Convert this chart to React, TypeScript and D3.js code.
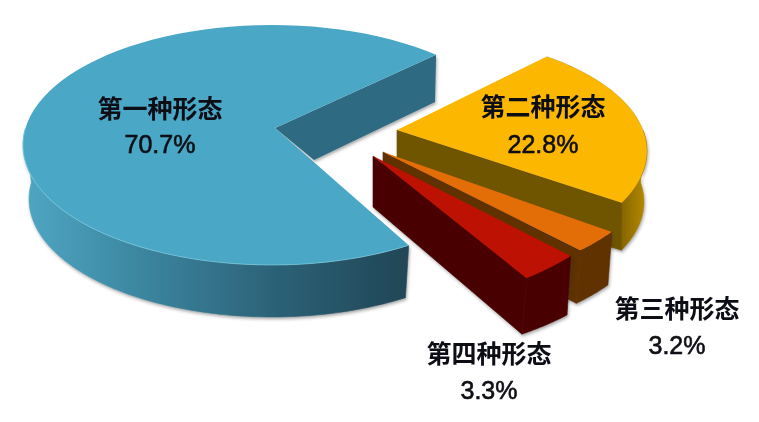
import React from "react";
import * as d3 from "d3";

const categories = ["第一种形态", "第二种形态", "第三种形态", "第四种形态"];
const shares = [70.7, 22.8, 3.2, 3.3];

const rad = Math.PI / 180;
type E = { cx: number; cy: number; rx: number; ry: number };
type Layout = {
  start: number; stretch: number;
  apex: [number, number]; apexBase: [number, number];
  cornerBase?: [number, number];
  top: E; base: E;
  face: string; wall: string; outer: string; seam: string;
  outerTo?: number; outerFrom?: number;
  label: [number, number]; value: [number, number];
};

const layouts: Layout[] = [
  { start: 146.7, stretch: 1, apex: [275, 128], apexBase: [314, 160], cornerBase: [435, 102],
    top: { cx: 272, cy: 145, rx: 249, ry: 120 }, base: { cx: 272, cy: 199, rx: 243, ry: 118 },
    face: "#4aa7c5", wall: "#2f6a82", outer: "url(#blueWall)", seam: "none", outerTo: 278, label: [160, 118], value: [160, 153] },
  { start: 36.7, stretch: 79.3 / 82.08, apex: [397, 130], apexBase: [397, 183],
    top: { cx: 398, cy: 151, rx: 249, ry: 118 }, base: { cx: 421, cy: 202, rx: 223, ry: 110 },
    face: "#fcb800", wall: "#705400", outer: "url(#yellowWall)", seam: "#705400", outerFrom: 80, label: [543, 116], value: [543, 153] },
  { start: 123.4, stretch: 1, apex: [383, 152], apexBase: [383, 205],
    top: { cx: 404, cy: 167, rx: 249, ry: 118 }, base: { cx: 400, cy: 220, rx: 249, ry: 118 },
    face: "#e36e07", wall: "#5f3000", outer: "#5f3000", seam: "#5f3000", label: [677, 318], value: [677, 354] },
  { start: 134.9, stretch: 1, apex: [373, 156], apexBase: [373, 207],
    top: { cx: 376, cy: 136, rx: 275, ry: 170 }, base: { cx: 368, cy: 212, rx: 281, ry: 146 },
    face: "#bd1103", wall: "#4a0200", outer: "#4a0200", seam: "#4a0200", label: [489, 363], value: [489, 399] },
];

const pieAngles = d3.pie<number>().sort(null).value((d) => d).startAngle(0).endAngle(2 * Math.PI)(shares);
const line = d3.line<[number, number]>();

const onEllipse = (e: E, deg: number): [number, number] => [
  e.cx + e.rx * Math.sin(deg * rad),
  e.cy - e.ry * Math.cos(deg * rad),
];
const sweep = (e: E, a: number, b: number): [number, number][] => {
  const s = d3.scaleLinear().domain([0, 80]).range([a, b]);
  return d3.range(0, 81).map((i) => onEllipse(e, s(i)));
};

export default function App() {
  const slices = layouts.map((l, i) => {
    const span = (pieAngles[i].endAngle - pieAngles[i].startAngle) / rad * l.stretch;
    return { l, a: l.start, b: l.start + span, cat: categories[i], v: shares[i] };
  });
  const draw = [slices[1], slices[2], slices[3], slices[0]];

  return (
    <svg width={759} height={422} style={{ position: "absolute", left: 0, top: 0, background: "#fff" }}>
      <defs>
        <linearGradient id="blueWall" gradientUnits="userSpaceOnUse" x1={25} x2={406} y1={0} y2={0}>
          <stop offset="0" stopColor="#4fa6c3" />
          <stop offset="0.3" stopColor="#3c86a0" />
          <stop offset="0.65" stopColor="#2c6278" />
          <stop offset="1" stopColor="#214656" />
        </linearGradient>
        <linearGradient id="yellowWall" gradientUnits="userSpaceOnUse" x1={615} x2={647} y1={0} y2={0}>
          <stop offset="0" stopColor="#7a5c00" />
          <stop offset="1" stopColor="#b88c00" />
        </linearGradient>
        <filter id="soft" x="-10%" y="-10%" width="120%" height="120%">
          <feDropShadow dx="1" dy="2" stdDeviation="1.6" floodColor="#333" floodOpacity="0.4" />
        </filter>
        <filter id="tiny"><feGaussianBlur stdDeviation="0.3" /></filter>
      </defs>

      {draw.map(({ l, a, b, cat }) => {
        const isBlue = l.outerTo !== undefined;
        const outerStart = isBlue ? a : Math.min(b, l.outerFrom ?? a);
        const outerEnd = l.outerTo ?? b;
        const topArc = sweep(l.top, a, b);
        const outerWall = [...sweep(l.top, outerStart, outerEnd), ...sweep(l.base, outerEnd, outerStart)];
        const sideEnd = onEllipse(l.top, b);
        const sideEndBase = l.cornerBase ?? onEllipse(l.base, b);
        const inner: [number, number][] = [l.apex, sideEnd, sideEndBase, l.apexBase];
        return (
          <g key={cat}>
            <g filter="url(#soft)">
              <path d={line(outerWall)! + "Z"} fill={l.outer} stroke={l.outer} strokeWidth={0.6} />
              <path d={line(inner)! + "Z"} fill={l.wall} stroke={l.seam} strokeWidth={0.6} />
            </g>
            <path d={line([l.apex, ...topArc])! + "Z"} fill={l.face} />
            {isBlue ? (
              <path d={line(sweep(l.top, a, outerEnd))!} fill="none" stroke="#86d3e8" strokeWidth={1} opacity={0.6} />
            ) : (
              <path d={line(sweep(l.top, a, b))!} fill="none" stroke="#000" strokeOpacity={0.12} strokeWidth={1} />
            )}
          </g>
        );
      })}

      <g textAnchor="middle" fill="#0c0c14" filter="url(#tiny)">
        {slices.map(({ l, cat, v }) => (
          <g key={cat}>
            <text x={l.label[0]} y={l.label[1]} fontSize={25} fontWeight={700}
              fontFamily="'Noto Sans CJK SC'">{cat}</text>
            <text x={l.value[0]} y={l.value[1]} fontSize={25} stroke="#0c0c14" strokeWidth={0.6}
              fontFamily="'Liberation Sans'">{`${v}%`}</text>
          </g>
        ))}
      </g>
    </svg>
  );
}
